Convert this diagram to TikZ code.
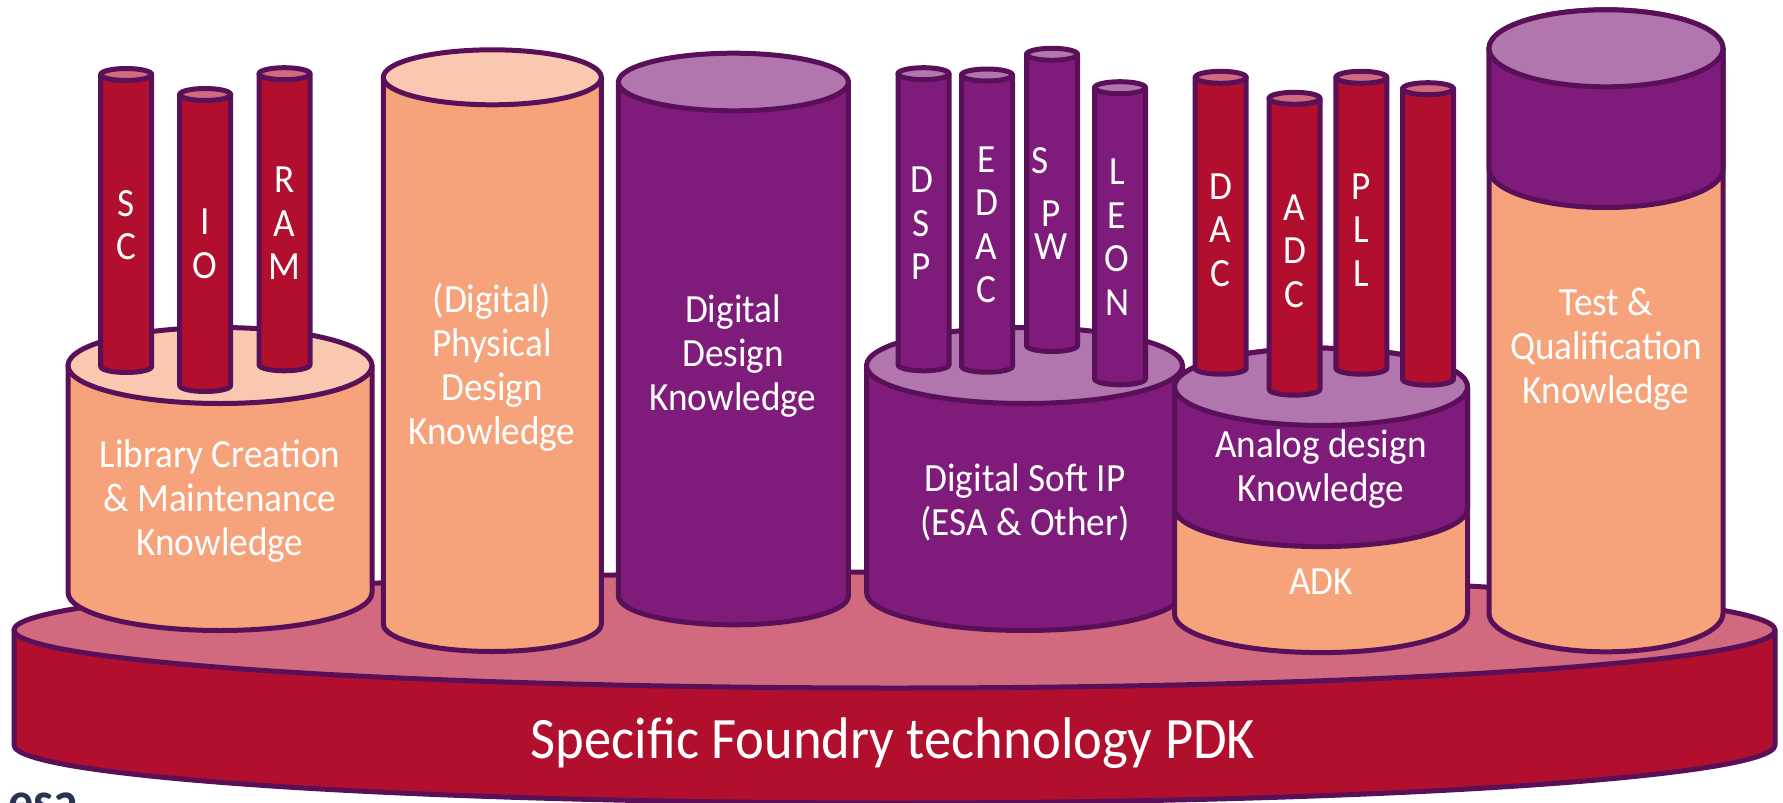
\documentclass[tikz,border=0pt]{standalone}
\usepackage{fontspec}
\setmainfont[FakeStretch=0.93]{Carlito}
\definecolor{lineC}{HTML}{5A1058}
\definecolor{redC}{HTML}{B20F2E}
\definecolor{pinkC}{HTML}{D16A7E}
\definecolor{purpC}{HTML}{7F1C7B}
\definecolor{lilacC}{HTML}{B076AD}
\definecolor{peachC}{HTML}{F6A37B}
\definecolor{lpeachC}{HTML}{FAC8B0}
\definecolor{navyC}{HTML}{2A3350}
\tikzset{
  x=1pt,y=-1pt,
  edge/.style={draw=lineC,line width=5pt,line join=round},
  lab/.style={text=white,align=center,inner sep=0pt,font=\fontsize{40}{44}\selectfont},
  stack/.style={text=white,align=center,inner sep=0pt,font=\fontsize{40}{43.5}\selectfont},
  basetext/.style={text=white,inner sep=0pt,font=\fontsize{58.7}{60}\selectfont},
}
% cylinder: cx, rx, ry, topcy, bottomcy, side colour, top colour
\newcommand{\cyl}[7]{%
  \path[edge,fill=#6] (#1-#2,#4) -- (#1-#2,#5) arc[start angle=180,end angle=360,x radius=#2,y radius=-#3] -- (#1+#2,#4) -- cycle;
  \path[edge,fill=#7] (#1,#4) ellipse[x radius=#2,y radius=#3];
}
% band: lower edge of an upper part, same geometry
\newcommand{\band}[6]{%
  \path[fill=#6] (#1-#2,#4) -- (#1-#2,#5) arc[start angle=180,end angle=360,x radius=#2,y radius=-#3] -- (#1+#2,#4) -- cycle;
  \path[edge] (#1-#2,#4) -- (#1-#2,#5) arc[start angle=180,end angle=360,x radius=#2,y radius=-#3] -- (#1+#2,#4);
}
\newcommand{\thin}[5]{\cyl{#1}{25.5}{6}{#2}{#3}{#4}{#5}}
\begin{document}
\begin{tikzpicture}
\useasboundingbox (0,0) rectangle (1783,803);
\clip (0,0) rectangle (1783,803);
% logo fragment
\node[inner sep=0pt,anchor=base west,text=navyC,font=\fontsize{54}{54}\selectfont\bfseries] (esa) at (8,819) {esa};
% base
\path[edge,fill=redC] (14,630) -- (14,745) arc[start angle=180,end angle=360,x radius=880.5,y radius=-58] -- (1775,630) -- cycle;
\path[edge,fill=pinkC] (894.5,630) ellipse[x radius=880.5,y radius=58];
\node[basetext] (pdk) at (893,743) {Specific Foundry technology PDK};
% library
\cyl{220}{152}{38}{365.5}{592.5}{peachC}{lpeachC}
\node[lab] (lib) at (220,501) {Library Creation\\\& Maintenance\\Knowledge};
\thin{126.2}{74.5}{366.5}{redC}{pinkC}
\node[stack] (sc) at (126,225) {S\\C};
\thin{205.2}{94.5}{385.5}{redC}{pinkC}
\node[stack] (io) at (205,244) {I\\O};
\thin{284.5}{73.7}{364.8}{redC}{pinkC}
\node[stack] (ram) at (284.5,223.5) {R\\A\\M};
% physical
\cyl{492.3}{109}{27.5}{77.3}{624}{peachC}{lpeachC}
\node[lab] (phys) at (492,367) {(Digital)\\Physical\\Design\\Knowledge};
% digital design
\cyl{733.4}{115}{28.8}{82}{596}{purpC}{lilacC}
\node[lab] (dd) at (733,356) {Digital\\Design\\Knowledge};
% soft IP
\cyl{1024.5}{158}{38}{365.5}{592.5}{purpC}{lilacC}
\node[lab] (soft) at (1025,502) {Digital Soft IP\\(ESA \& Other)};
\thin{923.5}{73.7}{364.8}{purpC}{lilacC}
\node[stack] (dsp) at (921.5,223.5) {D\\S\\P};
\thin{987}{75}{366.2}{purpC}{lilacC}
\node[stack] (edac) at (986.5,225) {E\\D\\A\\C};
\thin{1052}{54.3}{345.5}{purpC}{lilacC}
\node[stack] (spw) at (1051,204) {S\hspace*{22pt}\\[9pt]P\hspace*{22pt}\\[-10pt]W};
\thin{1120}{87.7}{378.8}{purpC}{lilacC}
\node[stack] (leon) at (1117,237) {L\\E\\O\\N};
% analog
\cyl{1321}{146.5}{38.6}{386.8}{614}{peachC}{lilacC}
\band{1321}{146.5}{38.6}{386.8}{508}{purpC}
\path[edge,fill=lilacC] (1321,386.8) ellipse[x radius=146.5,y radius=38.6];
\node[lab] (ana) at (1321,469) {Analog design\\Knowledge};
\node[lab] (adk) at (1321,582) {ADK};
\thin{1220.7}{77.3}{368.2}{redC}{pinkC}
\node[stack] (dac) at (1220.7,230) {D\\A\\C};
\thin{1294.5}{98.3}{389.2}{redC}{pinkC}
\node[stack] (adc) at (1294.5,251) {A\\D\\C};
\thin{1361.3}{77.3}{368.2}{redC}{pinkC}
\node[stack] (pll) at (1361.3,230) {P\\L\\L};
\thin{1428}{88.7}{379.2}{redC}{pinkC}
% test
\cyl{1606}{117}{38.5}{48.3}{613.3}{peachC}{lilacC}
\band{1606}{117}{38.5}{48.3}{169}{purpC}
\path[edge,fill=lilacC] (1606,48.3) ellipse[x radius=117,y radius=38.5];
\node[lab] (test) at (1606,349) {Test \&\\Qualification\\Knowledge};
\end{tikzpicture}
\end{document}
